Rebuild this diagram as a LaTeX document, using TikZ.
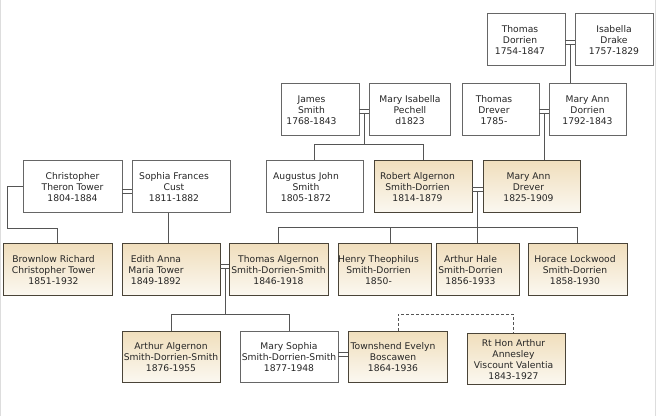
\documentclass[tikz,border=0pt]{standalone}
\usepackage{fontspec}
\setmainfont{DejaVu Sans}
\definecolor{txt}{HTML}{262626}
\definecolor{wline}{HTML}{666666}
\definecolor{sline}{HTML}{4A4438}
\definecolor{cline}{HTML}{555555}
\definecolor{ctop}{HTML}{F0DEBC}
\definecolor{cbot}{HTML}{FBF8F0}
\definecolor{frame}{HTML}{DDDDDD}
\newcommand\tx[2]{\hspace*{-#1pt}\raisebox{-1.8pt}[\height][\depth]{\begin{tabular}{@{}c@{}}#2\end{tabular}}}
\tikzset{
  pbox/.style={draw=wline, fill=white, line width=0.8pt, inner sep=0pt,
    minimum height=52pt, font=\fontsize{9.2}{11}\selectfont, text=txt},
  sbox/.style={pbox, draw=sline, top color=ctop, bottom color=cbot},
  conn/.style={draw=cline, line width=0.8pt},
}
\begin{document}
\begin{tikzpicture}[x=1pt,y=-1pt]
\useasboundingbox (0,0) rectangle (656,416);
\draw[frame, line width=0.8pt] (0.8,0) -- (0.8,416);
\draw[frame, line width=0.8pt] (655.2,0) -- (655.2,416);

% row 1
\node[pbox, minimum width=78pt] (td) at (526,39) {\tx{12}{Thomas\\Dorrien\\1754-1847}};
\node[pbox, minimum width=78pt] (id) at (614,39) {\tx{0}{Isabella\\Drake\\1757-1829}};
% row 2
\node[pbox, minimum width=78pt] (js) at (320,109) {\tx{17}{James\\Smith\\1768-1843}};
\node[pbox, minimum width=81pt] (mp) at (410,109) {\tx{0}{Mary Isabella\\Pechell\\d1823}};
\node[pbox, minimum width=77pt] (tdr) at (500.5,109) {\tx{13}{Thomas\\Drever\\1785-}};
\node[pbox, minimum width=77pt] (mad) at (587.5,109) {\tx{0}{Mary Ann\\Dorrien\\1792-1843}};
% row 3
\node[pbox, minimum width=99pt] (ct) at (72.5,186.5) {\tx{0}{Christopher\\Theron Tower\\1804-1884}};
\node[pbox, minimum width=98pt] (sc) at (181,186.5) {\tx{14}{Sophia Frances\\Cust\\1811-1882}};
\node[pbox, minimum width=97pt] (aj) at (314.5,186) {\tx{17}{Augustus John\\Smith\\1805-1872}};
\node[sbox, minimum width=98pt] (ra) at (423,186) {\tx{11}{Robert Algernon\\Smith-Dorrien\\1814-1879}};
\node[sbox, minimum width=97pt] (mdr) at (531.5,186) {\tx{6}{Mary Ann\\Drever\\1825-1909}};
% row 4
\node[sbox, minimum width=109pt] (br) at (57.5,269) {\tx{8}{Brownlow Richard\\Christopher Tower\\1851-1932}};
\node[sbox, minimum width=98pt] (ea) at (171,269) {\tx{30}{Edith Anna\\Maria Tower\\1849-1892}};
\node[sbox, minimum width=99pt] (ta) at (278.5,269) {\tx{0}{Thomas Algernon\\Smith-Dorrien-Smith\\1846-1918}};
\node[sbox, minimum width=93pt] (ht) at (384.5,269) {\tx{12}{Henry Theophilus\\Smith-Dorrien\\1850-}};
\node[sbox, minimum width=83pt] (ah) at (477.5,269) {\tx{14}{Arthur Hale\\Smith-Dorrien\\1856-1933}};
\node[sbox, minimum width=99pt] (hl) at (577.5,269) {\tx{5}{Horace Lockwood\\Smith-Dorrien\\1858-1930}};
% row 5
\node[sbox, minimum width=98pt, minimum height=51pt] (aa) at (171,356.5) {\tx{0}{Arthur Algernon\\Smith-Dorrien-Smith\\1876-1955}};
\node[pbox, minimum width=98pt, minimum height=51pt] (ms) at (289,356.5) {\tx{0}{Mary Sophia\\Smith-Dorrien-Smith\\1877-1948}};
\node[sbox, minimum width=99pt, minimum height=51pt] (te) at (397.5,356.5) {\tx{9}{Townshend Evelyn\\Boscawen\\1864-1936}};
\node[sbox, minimum width=98pt, minimum height=51pt] (vv) at (516,358.5) {\tx{5}{Rt Hon Arthur\\Annesley\\Viscount Valentia\\1843-1927}};

% marriage Thomas Dorrien / Isabella Drake
\coordinate (m1a) at (570,40); \coordinate (m1b) at (570,44);
\draw[conn] (m1a -| td.east) -- (m1a -| id.west);
\draw[conn] (m1b -| td.east) -- (m1b -| id.west);
\draw[conn] (m1b) -- (m1b |- mad.north);
% marriage Thomas Drever / Mary Ann Dorrien
\coordinate (m2a) at (544,109); \coordinate (m2b) at (544,113);
\draw[conn] (m2a -| tdr.east) -- (m2a -| mad.west);
\draw[conn] (m2b -| tdr.east) -- (m2b -| mad.west);
\draw[conn] (m2b) -- (m2b |- mdr.north);
% marriage James Smith / Mary Isabella Pechell
\coordinate (m3a) at (364,109); \coordinate (m3b) at (364,113);
\coordinate (j3) at (364,144);
\draw[conn] (m3a -| js.east) -- (m3a -| mp.west);
\draw[conn] (m3b -| js.east) -- (m3b -| mp.west);
\draw[conn] (m3b) -- (j3);
\draw[conn] (aj.north) -- (aj.north |- j3) -- (ra.north |- j3) -- (ra.north);
% marriage Christopher / Sophia
\coordinate (m4a) at (127,189); \coordinate (m4b) at (127,193);
\draw[conn] (m4a -| ct.east) -- (m4a -| sc.west);
\draw[conn] (m4b -| ct.east) -- (m4b -| sc.west);
\coordinate (e4) at (168,230);
\draw[conn] (e4 |- sc.south) -- (e4 |- ea.north);
\coordinate (b4) at (7,228);
\draw[conn] (ct.west) -- (ct.west -| b4) -- (b4) -- (b4 -| br.north) -- (br.north);
% marriage Robert Algernon / Mary Ann Drever
\coordinate (m5a) at (477,187); \coordinate (m5b) at (477,191);
\coordinate (j5) at (477,227); \coordinate (h5) at (390,227);
\draw[conn] (m5a -| ra.east) -- (m5a -| mdr.west);
\draw[conn] (m5b -| ra.east) -- (m5b -| mdr.west);
\draw[conn] (m5b) -- (m5b |- ah.north);
\draw[conn] (ta.north) -- (ta.north |- j5) -- (hl.north |- j5) -- (hl.north);
\draw[conn] (h5) -- (h5 |- ht.north);
% marriage Edith / Thomas Algernon
\coordinate (m6a) at (225,264); \coordinate (m6b) at (225,268);
\coordinate (j6) at (225,314);
\draw[conn] (m6a -| ea.east) -- (m6a -| ta.west);
\draw[conn] (m6b -| ea.east) -- (m6b -| ta.west);
\draw[conn] (m6b) -- (j6);
\draw[conn] (aa.north) -- (aa.north |- j6) -- (ms.north |- j6) -- (ms.north);
% marriage Mary Sophia / Townshend
\coordinate (m7a) at (343,352); \coordinate (m7b) at (343,356);
\draw[conn] (m7a -| ms.east) -- (m7a -| te.west);
\draw[conn] (m7b -| ms.east) -- (m7b -| te.west);
% dashed link Townshend / Valentia
\coordinate (d1) at (398,314); \coordinate (d2) at (513,314);
\draw[conn, dashed, dash pattern=on 3pt off 2pt] (d1 |- te.north) -- (d1) -- (d2) -- (d2 |- vv.north);
\end{tikzpicture}
\end{document}
